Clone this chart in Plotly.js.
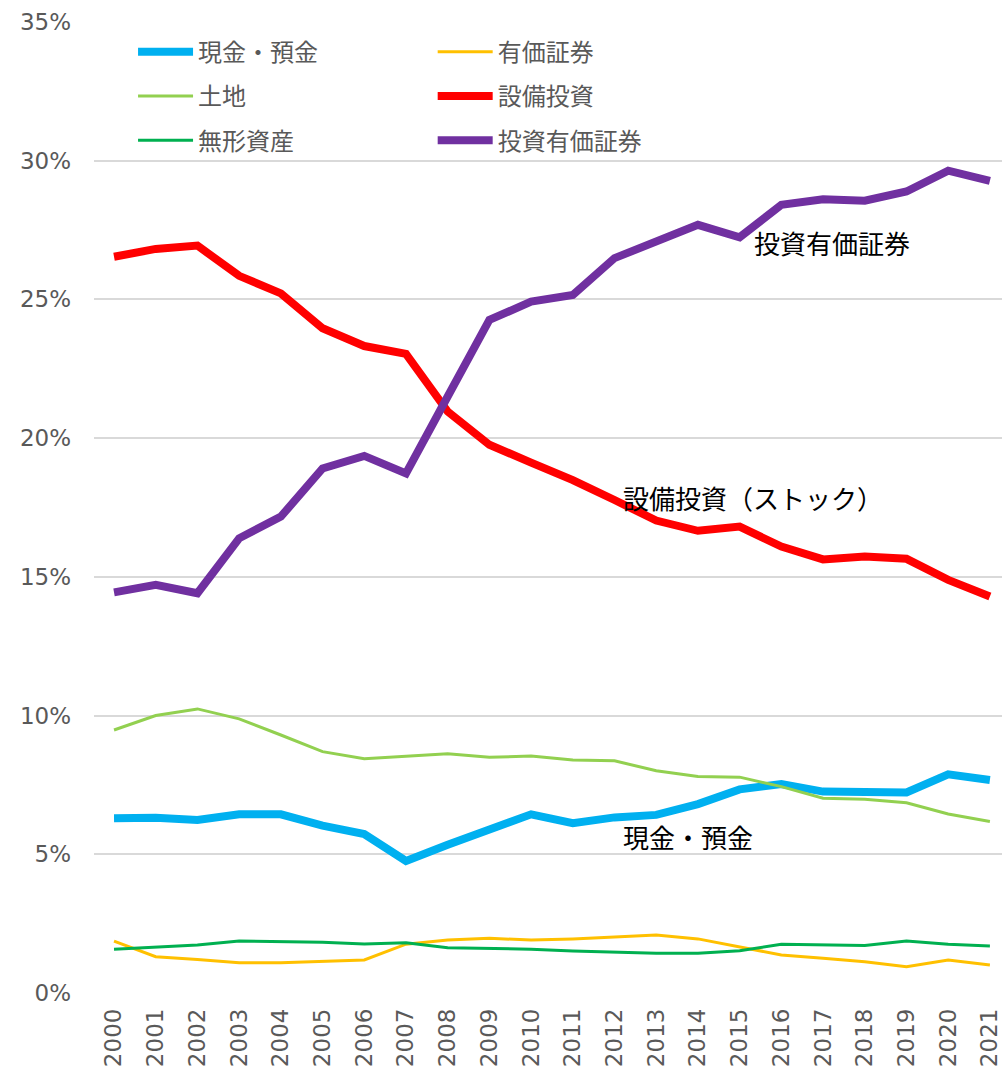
<!DOCTYPE html>
<html>
<head>
<meta charset="utf-8">
<script src="https://cdn.plot.ly/plotly-3.0.1.min.js"></script>
<style>html,body{margin:0;padding:0;background:#fff;}#chart{width:1002px;height:1070px;}</style>
</head>
<body>
<div id="chart"></div>
<script>
const years = ['2000','2001','2002','2003','2004','2005','2006','2007','2008','2009','2010','2011','2012','2013','2014','2015','2016','2017','2018','2019','2020','2021'];
const cash = [6.30,6.32,6.24,6.44,6.44,6.03,5.73,4.76,5.34,5.88,6.44,6.12,6.33,6.42,6.81,7.34,7.53,7.26,7.23,7.23,7.88,7.68];
const securities = [1.87,1.31,1.21,1.09,1.09,1.13,1.19,1.76,1.91,1.97,1.91,1.95,2.01,2.09,1.95,1.65,1.37,1.25,1.13,0.95,1.19,1.01];
const land = [9.48,10.00,10.24,9.88,9.30,8.70,8.44,8.54,8.62,8.50,8.54,8.40,8.37,8.01,7.80,7.78,7.44,7.02,6.98,6.86,6.45,6.18];
const capex = [26.54,26.82,26.94,25.85,25.22,23.96,23.32,23.04,20.96,19.76,19.12,18.49,17.77,17.03,16.66,16.81,16.09,15.63,15.73,15.65,14.89,14.29];
const intangibles = [1.58,1.65,1.73,1.87,1.85,1.83,1.77,1.81,1.63,1.60,1.58,1.51,1.47,1.43,1.43,1.52,1.76,1.73,1.71,1.87,1.76,1.69];
const investSec = [14.44,14.71,14.41,16.39,17.17,18.91,19.36,18.73,21.50,24.26,24.92,25.16,26.49,27.09,27.69,27.24,28.41,28.61,28.56,28.89,29.64,29.27];
const yTicks = [0,5,10,15,20,25,30,35];
const yTickText = ['0%','5%','10%','15%','20%','25%','30%','35%'];

function tr(name, y, color, width, legend, group) {
  return {x: years, y: y, name: name, type: 'scatter', mode: 'lines',
    line: {color: color, width: width}, legend: legend, legendgroup: group, hoverinfo: 'skip'};
}
const data = [
  tr('現金・預金', cash, '#00B0F0', 8, 'legend', 'a'),
  tr('有価証券', securities, '#FFC000', 3, 'legend2', 'b'),
  tr('土地', land, '#92D050', 3, 'legend', 'c'),
  tr('設備投資', capex, '#FF0000', 8, 'legend2', 'd'),
  tr('無形資産', intangibles, '#00B050', 3, 'legend', 'e'),
  tr('投資有価証券', investSec, '#7030A0', 8, 'legend2', 'f')
];
const legFont = {family: 'Noto Sans CJK JP', size: 24, color: '#595959'};
const annFont = {family: 'Noto Sans CJK JP', size: 26, color: '#000000'};
const layout = {
  width: 1002, height: 1070,
  margin: {l: 94, r: 0, t: 22, b: 77},
  paper_bgcolor: '#ffffff', plot_bgcolor: '#ffffff',
  showlegend: true,
  xaxis: {type: 'category', range: [-0.48, 21.29], showgrid: false, zeroline: false, showline: false,
    ticks: '', tickangle: -90, ticklabelstandoff: 10,
    tickfont: {family: 'DejaVu Sans', size: 23, color: '#595959'}},
  yaxis: {range: [0, 35], tickvals: yTicks, ticktext: yTickText, showgrid: true, gridcolor: '#d9d9d9', gridwidth: 2,
    zeroline: false, showline: false, ticks: '', ticklabelstandoff: 22,
    tickfont: {family: 'DejaVu Sans', size: 23, color: '#595959'}},
  legend: {x: 0.043, y: 0.992, xanchor: 'left', yanchor: 'top', orientation: 'v', bgcolor: 'rgba(0,0,0,0)',
    font: legFont, itemwidth: 55, traceorder: 'grouped', tracegroupgap: 10},
  legend2: {x: 0.373, y: 0.992, xanchor: 'left', yanchor: 'top', orientation: 'v', bgcolor: 'rgba(0,0,0,0)',
    font: legFont, itemwidth: 55, traceorder: 'grouped', tracegroupgap: 10},
  annotations: [
    {text: '投資有価証券', xref: 'paper', yref: 'paper', x: 0.7247, y: 0.7733, xanchor: 'left', yanchor: 'middle', showarrow: false, font: annFont},
    {text: '設備投資（ストック）', xref: 'paper', yref: 'paper', x: 0.5804, y: 0.5108, xanchor: 'left', yanchor: 'middle', showarrow: false, font: annFont},
    {text: '現金・預金', xref: 'paper', yref: 'paper', x: 0.5804, y: 0.1607, xanchor: 'left', yanchor: 'middle', showarrow: false, font: annFont}
  ]
};
Plotly.newPlot('chart', data, layout, {staticPlot: true, displayModeBar: false});
</script>
</body>
</html>
